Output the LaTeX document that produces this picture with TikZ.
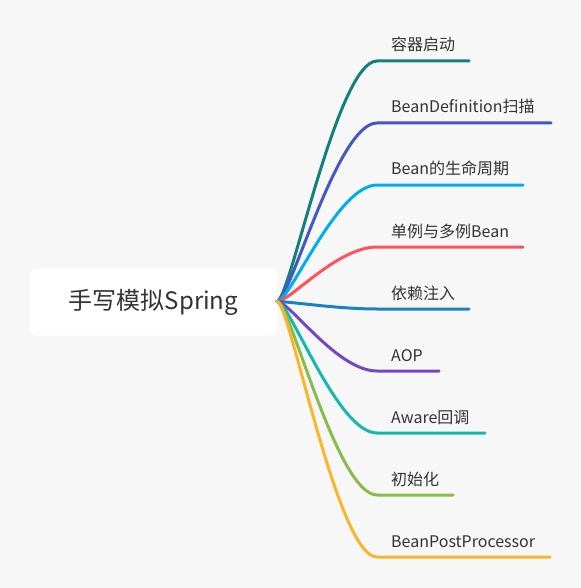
\documentclass[tikz,border=0pt]{standalone}
\usepackage{fontspec}
\setmainfont{Noto Sans CJK SC}
\usetikzlibrary{calc}
\definecolor{bgc}{HTML}{F7F7F7}
\definecolor{txtc}{HTML}{333333}
\definecolor{ca}{HTML}{12807D}
\definecolor{cb}{HTML}{4458C4}
\definecolor{cc}{HTML}{00AEEF}
\definecolor{cd}{HTML}{FF525A}
\definecolor{ce}{HTML}{1A80C8}
\definecolor{cf}{HTML}{7347C5}
\definecolor{cg}{HTML}{14B8B0}
\definecolor{ch}{HTML}{88BC4C}
\definecolor{ci}{HTML}{FBB52A}
\tikzset{
  rootbox/.style={fill=white, rounded corners=6pt, minimum width=247pt, minimum height=67pt, inner sep=0pt, text=txtc, font=\fontsize{24}{28}\selectfont},
  leaflabel/.style={anchor=base west, inner sep=0pt, text=txtc, font=\fontsize{16}{19}\selectfont},
  branch/.style={line width=3pt, line cap=round}
}
\begin{document}
\begin{tikzpicture}[x=1pt,y=-1pt]
\useasboundingbox[fill=bgc] (0,0) rectangle (580,588);
\node[rootbox] (root) at (153.5,302) {手写模拟Spring};
\coordinate (o) at (277,301.5);
% branches: name, y, end x, color, label
\foreach \n/\y/\ex/\col/\lab in {
  a/61/469/ca/容器启动,
  b/123/551/cb/BeanDefinition扫描,
  c/185/523/cc/Bean的生命周期,
  d/247/523/cd/单例与多例Bean,
  e/309/469/ce/依赖注入,
  f/371/439/cf/AOP,
  g/433/485/cg/Aware回调,
  h/495/453/ch/初始化,
  i/557/550/ci/BeanPostProcessor}{
  \coordinate (s\n) at (377,\y);
  \coordinate (e\n) at (\ex,\y);
  \node[leaflabel] (l\n) at (391,\y-10) {\lab};
  \draw[branch, draw=\col] (o) .. controls +(13,0) and +(-40,0) .. (s\n) -- (e\n);
}
\end{tikzpicture}
\end{document}
